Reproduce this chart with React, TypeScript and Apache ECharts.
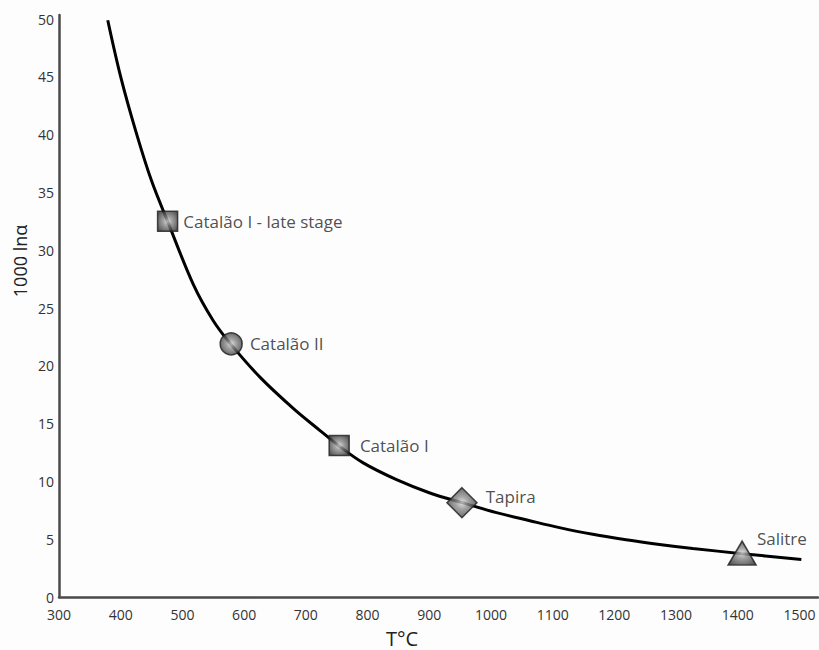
import React, { useEffect, useRef } from "react";
import * as echarts from "echarts";

// Curve: temperature (°C) and 1000 lnα
const curveT = [379, 400, 425, 450, 476, 518, 550, 578, 626, 680, 723, 753, 793, 847, 901, 953, 1009, 1063, 1111, 1165, 1219, 1273, 1327, 1407, 1503];
const curveY = [49.9, 45.0, 40.2, 36.0, 32.5, 27.0, 23.9, 21.9, 19.0, 16.3, 14.4, 13.1, 11.6, 10.15, 9.0, 8.16, 7.3, 6.6, 6.0, 5.42, 4.95, 4.55, 4.2, 3.75, 3.25];

// Localities
const siteNames = ["Catalão I - late stage", "Catalão II", "Catalão I", "Tapira", "Salitre"];
const siteT = [476, 579, 754, 953, 1407];
const siteY = [32.5, 21.9, 13.1, 8.16, 3.8];
const siteSymbols = ["rect", "circle", "rect", "diamond", "triangle"];

const xTicks = { min: 300, max: 1530, interval: 100 };
const yTicks = { min: 0, max: 50.35, interval: 5 };

export default function App() {
  const ref = useRef<HTMLDivElement>(null);
  useEffect(() => {
    if (!ref.current) return;
    const chart = echarts.init(ref.current, null, { renderer: "svg" });
    const grad = {
      type: "radial",
      x: 0.5,
      y: 0.5,
      r: 0.6,
      colorStops: [
        { offset: 0, color: "#dcdcdc" },
        { offset: 0.35, color: "#8e8e8e" },
        { offset: 1, color: "#303030" },
      ],
    };
    const sizes = [20, 22, 20, 30, [28, 24]];
    const labelCfg: any[] = [
      { position: "right", distance: 5, offset: [0, 0] },
      { position: "right", distance: 7, offset: [0, 0] },
      { position: "right", distance: 10, offset: [0, 0] },
      { position: "right", distance: 8, offset: [0, -6] },
      { position: "right", distance: 0, offset: [0, -15] },
    ];
    const font = "'Open Sans', 'Liberation Sans', sans-serif";
    chart.setOption({
      animation: false,
      backgroundColor: "#fdfdfd",
      grid: { left: 59, right: 1, top: 15, bottom: 53 },
      xAxis: {
        type: "value",
        min: xTicks.min,
        max: xTicks.max,
        interval: xTicks.interval,
        splitLine: { show: false },
        axisTick: { show: false },
        axisLine: { show: true, onZero: false, lineStyle: { color: "#4a4a4a", width: 2.5 } },
        axisLabel: {
          color: "#333",
          fontSize: 14,
          fontFamily: font,
          margin: 10,
          showMaxLabel: false,
          formatter: (v: number) => String(v),
        },
      },
      yAxis: {
        type: "value",
        min: yTicks.min,
        max: yTicks.max,
        interval: yTicks.interval,
        splitLine: { show: false },
        axisTick: { show: false },
        axisLine: { show: true, onZero: false, lineStyle: { color: "#4a4a4a", width: 2.5 } },
        axisLabel: {
          color: "#333",
          fontSize: 14,
          fontFamily: font,
          margin: 5,
          showMaxLabel: false,
          formatter: (v: number) => String(v),
        },
      },
      graphic: [
        {
          type: "text",
          x: 20,
          y: 261,
          rotation: Math.PI / 2,
          style: {
            text: "1000 lnα",
            fontSize: 18,
            fontFamily: font,
            fill: "#222",
            textAlign: "center",
            textVerticalAlign: "middle",
          },
        },
        {
          type: "text",
          x: 402,
          y: 638,
          style: {
            text: "T°C",
            fontSize: 20,
            fontFamily: font,
            fill: "#222",
            textAlign: "center",
            textVerticalAlign: "middle",
          },
        },
      ],
      series: [
        {
          type: "line",
          data: curveT.map((t, i) => [t, curveY[i]]),
          smooth: 0.35,
          showSymbol: false,
          lineStyle: { color: "#000", width: 3 },
          z: 2,
        },
        {
          type: "scatter",
          z: 3,
          data: siteNames.map((n, i) => ({
            name: n,
            value: [siteT[i], siteY[i]],
            symbol: siteSymbols[i],
            symbolSize: sizes[i],
            label: {
              show: true,
              formatter: n,
              color: "#222",
              fontSize: 17,
              fontFamily: font,
              ...labelCfg[i],
            },
          })),
          itemStyle: { color: grad, borderColor: "#1e1e1e", borderWidth: 1.5 },
        },
      ],
    });
    return () => chart.dispose();
  }, []);
  return <div ref={ref} style={{ position: "absolute", left: 0, top: 0, width: 819, height: 650 }} />;
}
